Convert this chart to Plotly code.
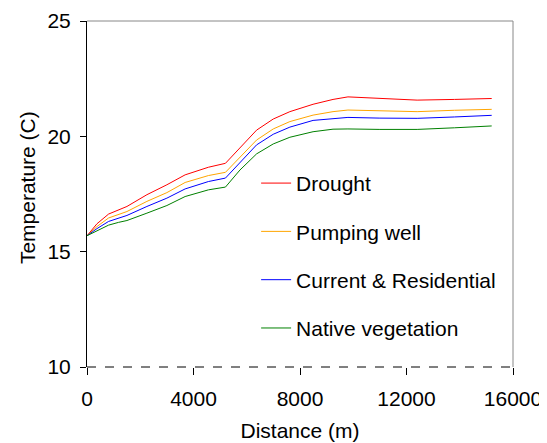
import plotly.graph_objects as go

distance = [0, 375, 810, 1185, 1500, 2250, 3000, 3685, 4560, 5200, 5745, 6370,
            6995, 7620, 8490, 9240, 9800, 11000, 12400, 13800, 15200]

drought = [15.69, 16.21, 16.63, 16.82, 16.96, 17.47, 17.90, 18.33, 18.66, 18.83, 19.48, 20.27,
           20.75, 21.07, 21.39, 21.60, 21.71, 21.64, 21.57, 21.60, 21.64]
pumping = [15.69, 16.09, 16.46, 16.63, 16.74, 17.18, 17.56, 18.00, 18.30, 18.44, 19.09, 19.84,
           20.32, 20.64, 20.92, 21.07, 21.14, 21.10, 21.07, 21.13, 21.17]
current = [15.69, 16.00, 16.31, 16.46, 16.57, 16.96, 17.32, 17.72, 18.04, 18.19, 18.86, 19.63,
           20.09, 20.40, 20.69, 20.78, 20.82, 20.79, 20.78, 20.84, 20.91]
native = [15.69, 15.91, 16.15, 16.27, 16.35, 16.67, 17.00, 17.39, 17.68, 17.80, 18.54, 19.24,
          19.67, 19.96, 20.20, 20.31, 20.32, 20.30, 20.30, 20.37, 20.45]

series_names = ["Drought", "Pumping well", "Current & Residential", "Native vegetation"]
series_values = [drought, pumping, current, native]
series_colors = ["#FF0000", "#FFA500", "#0000FF", "#008000"]

x_ticks = [0, 4000, 8000, 12000, 16000]
y_ticks = [10, 15, 20, 25]

x_title = "Distance (m)"
y_title = "Temperature (C)"

FONT = "Liberation Sans, Arial, sans-serif"

fig = go.Figure()
for i, (name, vals, col) in enumerate(zip(series_names, series_values, series_colors)):
    fig.add_trace(go.Scatter(
        x=distance, y=vals, mode="lines", name=name,
        line=dict(color=col, width=1),
        legendgroup=f"g{i}",
    ))

# the page body has an 8px margin, so the figure is 8px smaller than the window
fig.update_layout(
    width=539, height=435,
    margin=dict(l=79, r=34, t=13, b=76, autoexpand=False),
    paper_bgcolor="white", plot_bgcolor="white",
    font=dict(family=FONT, size=21, color="black"),
    showlegend=True,
    legend=dict(
        x=0.397, y=0.321, xanchor="left", yanchor="middle",
        bgcolor="rgba(0,0,0,0)", traceorder="grouped", tracegroupgap=18,
        font=dict(family=FONT, size=21, color="black"),
        itemwidth=30,
    ),
    xaxis=dict(
        range=[0, 16000], tickvals=x_ticks, ticktext=[str(v) for v in x_ticks],
        showgrid=False, zeroline=False, showline=False, automargin=False,
        ticks="outside", ticklen=7, tickcolor="black", tickwidth=1,
        ticklabelstandoff=6,
        title=dict(text=x_title, font=dict(size=21), standoff=14),
        tickfont=dict(size=21),
    ),
    yaxis=dict(
        range=[10, 25], tickvals=y_ticks, ticktext=[str(v) for v in y_ticks],
        showgrid=False, zeroline=False, showline=True, linecolor="black", linewidth=1,
        automargin=False,
        ticks="outside", ticklen=6, tickcolor="black", tickwidth=1,
        ticklabelstandoff=5,
        tickfont=dict(size=21),
    ),
    annotations=[
        dict(text=y_title, textangle=-90, xref="paper", yref="paper",
             x=0, y=0.517, xanchor="center", yanchor="middle", xshift=-60,
             showarrow=False, font=dict(family=FONT, size=21, color="black")),
    ],
    shapes=[
        dict(type="line", xref="paper", yref="paper", x0=0, x1=1, y0=1, y1=1,
             line=dict(color="#888888", width=1)),
        dict(type="line", xref="paper", yref="paper", x0=1, x1=1, y0=0, y1=1,
             line=dict(color="#888888", width=1)),
        dict(type="line", xref="paper", yref="paper", x0=0, x1=1, y0=0, y1=0,
             line=dict(color="black", width=1, dash="dash")),
    ],
)

fig.write_html("out.html")
